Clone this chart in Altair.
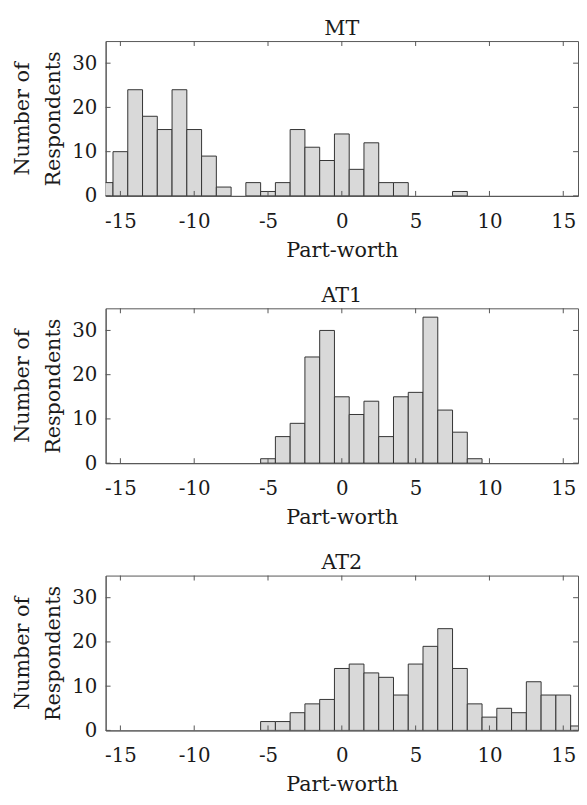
import altair as alt
import pandas as pd

FONT = "DejaVu Serif"
TXT = "#1a1a1a"
FRAME = "#555555"

centers = list(range(-16, 17))
panel_names = ["MT", "AT1", "AT2"]
mt_counts = [3, 10, 24, 18, 15, 24, 15, 9, 2, 0, 3, 1, 3, 15, 11, 8, 14, 6, 12, 3, 3,
             0, 0, 0, 1, 0, 0, 0, 0, 0, 0, 0, 0]
at1_counts = [0] * 11 + [1, 6, 9, 24, 30, 15, 11, 14, 6, 15, 16, 33, 12, 7, 1] + [0] * 7
at2_counts = [0] * 11 + [2, 2, 4, 6, 7, 14, 15, 13, 12, 8, 15, 19, 23, 14, 6, 3, 5, 4, 11, 8, 8, 1]
x_ticks = [-15, -10, -5, 0, 5, 10, 15]
y_ticks = [0, 10, 20, 30]
x_title = "Part-worth"
y_title = ["Number of", "Respondents"]

W = 479
H = 157
TL = 5
GAP = 114

xs = alt.Scale(domain=[-16, 16], nice=False, zero=False)
ys = alt.Scale(domain=[0, 35], nice=False)

x_axis = alt.Axis(
    values=x_ticks, title=x_title, labelPadding=16, titlePadding=8,
    labelExpr="datum.value < 0 ? '-' + abs(datum.value) : '' + datum.value")
y_axis = alt.Axis(values=y_ticks, title=y_title, labelPadding=9, titlePadding=8,
                  titleLineHeight=32)


def panel(name, counts):
    df = pd.DataFrame({"center": centers, "count": counts})
    df = df[df["count"] > 0]
    bars = alt.Chart(df).transform_calculate(
        lo="datum.center - 0.5", hi="datum.center + 0.5"
    ).mark_bar(fill="#d9d9d9", stroke="#333333", strokeWidth=1, clip=True).encode(
        x=alt.X("lo:Q", scale=xs, axis=x_axis),
        x2="hi:Q",
        y=alt.Y("count:Q", scale=ys, axis=y_axis),
        y2=alt.datum(0),
    )
    xt = pd.DataFrame({"t": x_ticks})
    yt = pd.DataFrame({"t": y_ticks})
    bottom = alt.Chart(xt).mark_rule(color=FRAME, strokeWidth=1).encode(
        x=alt.X("t:Q", scale=xs, axis=x_axis), y=alt.value(H), y2=alt.value(H - TL))
    top = alt.Chart(xt).mark_rule(color=FRAME, strokeWidth=1).encode(
        x=alt.X("t:Q", scale=xs, axis=x_axis), y=alt.value(0), y2=alt.value(TL))
    left = alt.Chart(yt).mark_rule(color=FRAME, strokeWidth=1).encode(
        y=alt.Y("t:Q", scale=ys, axis=y_axis), x=alt.value(0), x2=alt.value(TL))
    right = alt.Chart(yt).mark_rule(color=FRAME, strokeWidth=1).encode(
        y=alt.Y("t:Q", scale=ys, axis=y_axis), x=alt.value(W), x2=alt.value(W - TL))
    return alt.layer(bars, bottom, top, left, right).properties(
        width=W, height=H,
        title=alt.TitleParams(name, offset=2),
    )


PAD_L = 99
PAD_T = 28
PAD_B = 3 * H + 2 * GAP + 62
chart = alt.vconcat(
    panel(panel_names[0], mt_counts),
    panel(panel_names[1], at1_counts),
    panel(panel_names[2], at2_counts),
    spacing=GAP, bounds="flush",
).properties(
    autosize=alt.AutoSizeParams(type="none"),
    padding={"left": PAD_L, "top": PAD_T, "right": 1, "bottom": PAD_B},
).configure(
    font=FONT
).configure_view(
    stroke=FRAME, strokeWidth=1
).configure_axis(
    labelFont=FONT, titleFont=FONT, labelFontSize=20, titleFontSize=21,
    labelColor=TXT, titleColor=TXT, titleFontWeight="normal",
    ticks=False, tickSize=0, domain=True, domainColor=FRAME, grid=False, zindex=1,
    labelFlush=False, labelOverlap=False,
).configure_title(
    font=FONT, fontSize=21, fontWeight="normal", color=TXT,
)

chart.save("out.html", embed_options={"renderer": "svg", "actions": False})
